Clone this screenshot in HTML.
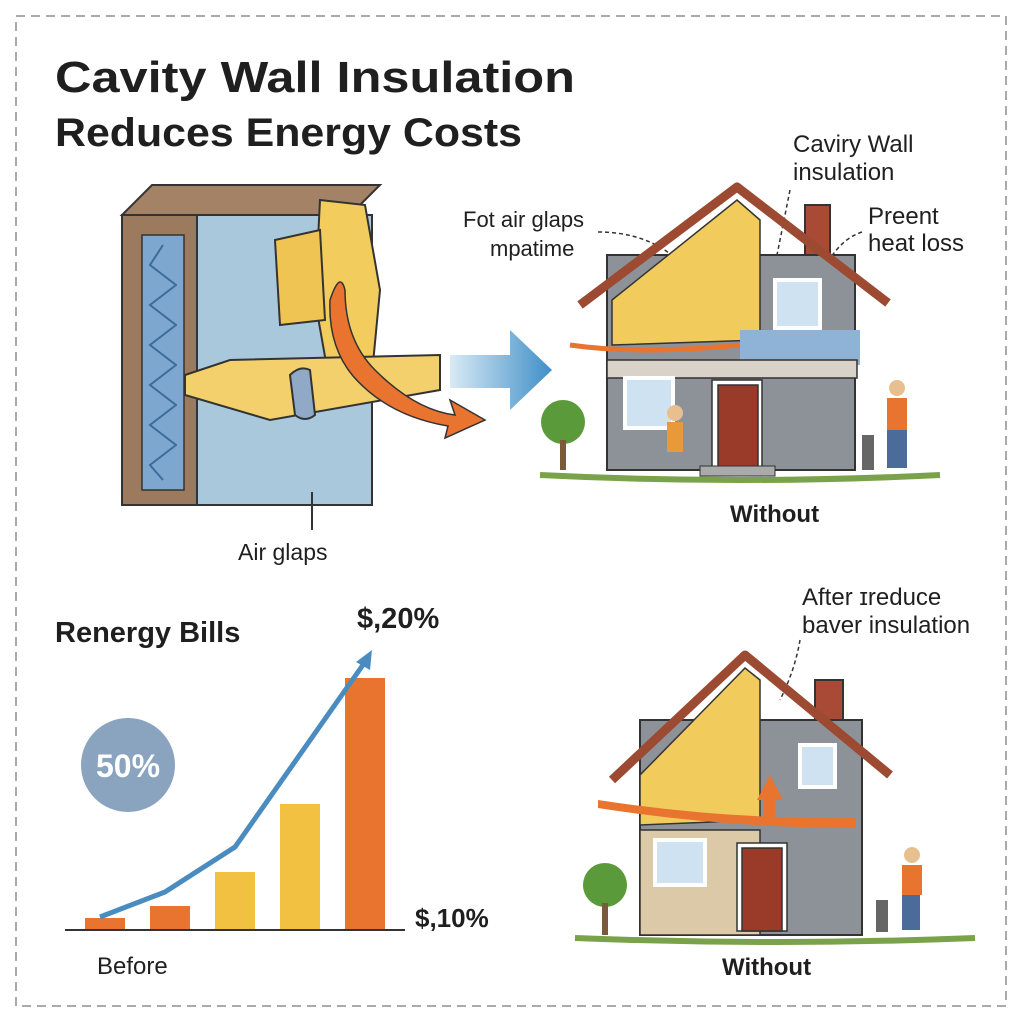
<!DOCTYPE html>
<html><head><meta charset="utf-8"><style>
html,body{margin:0;padding:0;background:#fff}
svg{display:block}
text{font-family:"Liberation Sans",sans-serif;fill:#1f1f1f}
</style></head><body>
<svg width="1024" height="1024" viewBox="0 0 1024 1024">
<rect x="16" y="16" width="990" height="990" fill="#fff" stroke="#aaa" stroke-width="2" stroke-dasharray="9,6"/>
<text x="55" y="92" font-size="44" font-weight="bold" textLength="520" lengthAdjust="spacingAndGlyphs">Cavity Wall Insulation</text>
<text x="55" y="146" font-size="40" font-weight="bold" textLength="467" lengthAdjust="spacingAndGlyphs">Reduces Energy Costs</text>

<!-- wall block -->
<polygon points="122,215 152,185 380,185 350,215" fill="#a48266" stroke="#333" stroke-width="2"/>
<rect x="122" y="215" width="75" height="290" fill="#9c7a5e" stroke="#333" stroke-width="2"/>
<rect x="142" y="235" width="42" height="255" fill="#7ea7cf" stroke="#333" stroke-width="1.5"/>
<polyline points="163,245 150,265 176,285 150,305 176,325 150,345 176,365 150,385 176,405 150,425 176,445 150,465 163,480" fill="none" stroke="#3c6c9c" stroke-width="2"/>
<rect x="197" y="215" width="175" height="290" fill="#a9c8dc" stroke="#333" stroke-width="2"/>
<polygon points="320,200 365,205 380,290 370,395 330,385 315,300" fill="#f2cd5e" stroke="#333" stroke-width="2"/>
<polygon points="275,240 320,230 325,320 280,325" fill="#f0c452" stroke="#333" stroke-width="2"/>
<polygon points="185,375 230,360 440,355 440,390 270,420 185,395" fill="#f3d06b" stroke="#333" stroke-width="2"/>
<path d="M290,375 q10,-10 20,-5 l5,45 q-10,8 -20,0z" fill="#8fa9c6" stroke="#333" stroke-width="2"/>
<path d="M330,300 q10,-30 15,-10 q0,50 30,80 q40,40 80,45 l-5,-15 l35,20 l-40,18 l3,-12 q-60,-10 -95,-50 q-25,-30 -23,-76z" fill="#e8742f" stroke="#333" stroke-width="1.5"/>
<text x="238" y="560" font-size="23">Air glaps</text>
<line x1="312" y1="530" x2="312" y2="492" stroke="#333" stroke-width="2"/>

<!-- big arrow -->
<defs><linearGradient id="g" x1="0" x2="1"><stop offset="0" stop-color="#d9eaf5"/><stop offset="1" stop-color="#3f8fc8"/></linearGradient></defs>
<polygon points="450,355 510,355 510,330 552,370 510,410 510,388 450,388" fill="url(#g)"/>

<!-- house 1 -->
<text x="463" y="227" font-size="22">Fot air glaps</text>
<text x="490" y="256" font-size="22">mpatime</text>
<path d="M598,232 q50,0 82,30" fill="none" stroke="#333" stroke-width="1.5" stroke-dasharray="4,3"/>
<text x="793" y="152" font-size="24">Caviry Wall</text>
<text x="793" y="180" font-size="24">insulation</text>
<line x1="790" y1="190" x2="775" y2="265" stroke="#333" stroke-width="1.5" stroke-dasharray="4,3"/>
<text x="868" y="224" font-size="24">Preent</text>
<text x="868" y="251" font-size="24">heat loss</text>
<path d="M862,232 q-30,10 -45,55" fill="none" stroke="#333" stroke-width="1.5" stroke-dasharray="4,3"/>
<rect x="805" y="205" width="25" height="50" fill="#a84a35" stroke="#333" stroke-width="2"/>
<rect x="607" y="255" width="248" height="215" fill="#8d9299" stroke="#333" stroke-width="2"/>
<polygon points="612,300 737,200 760,220 760,340 612,345" fill="#f1cc5c" stroke="#333" stroke-width="1.5"/>
<polygon points="740,330 860,330 860,365 740,360" fill="#8fb3d6"/>
<polyline points="580,305 737,187 888,303" fill="none" stroke="#9c4a32" stroke-width="9" stroke-linejoin="round"/>
<rect x="607" y="360" width="250" height="18" fill="#d9d2c8" stroke="#333" stroke-width="1.5"/>
<rect x="775" y="280" width="45" height="48" fill="#cfe2f1" stroke="#fff" stroke-width="4"/>
<rect x="625" y="378" width="48" height="50" fill="#cfe2f1" stroke="#fff" stroke-width="4"/>
<rect x="712" y="380" width="50" height="88" fill="#fff" stroke="#333" stroke-width="1.5"/>
<rect x="718" y="385" width="40" height="83" fill="#9a3a28" stroke="#333" stroke-width="1.5"/>
<path d="M570,345 q70,10 170,0" fill="none" stroke="#e8742f" stroke-width="5"/>
<rect x="700" y="466" width="75" height="10" fill="#aaa" stroke="#333"/>
<path d="M540,475 q200,10 400,0" stroke="#7aa24a" stroke-width="6" fill="none"/>
<circle cx="563" cy="422" r="22" fill="#5b9a3a"/><rect x="560" y="440" width="6" height="30" fill="#7a5a3a"/>
<circle cx="675" cy="413" r="8" fill="#e8c090"/><rect x="667" y="422" width="16" height="30" fill="#e89a3a"/>
<circle cx="897" cy="388" r="8" fill="#e8c090"/><rect x="887" y="398" width="20" height="32" fill="#e8742f"/><rect x="887" y="430" width="20" height="38" fill="#4b6c98"/>
<rect x="862" y="435" width="12" height="35" fill="#666"/>
<text x="730" y="522" font-size="24" font-weight="bold">Without</text>

<!-- chart -->
<text x="55" y="642" font-size="29" font-weight="bold">Renergy Bills</text>
<text x="357" y="628" font-size="29" font-weight="bold">$,20%</text>
<circle cx="128" cy="765" r="47" fill="#8aa4bf"/>
<text x="128" y="777" font-size="32" font-weight="bold" text-anchor="middle" style="fill:#fff">50%</text>
<rect x="85" y="918" width="40" height="12" fill="#e8742f"/>
<rect x="150" y="906" width="40" height="24" fill="#e8742f"/>
<rect x="215" y="872" width="40" height="58" fill="#f3c142"/>
<rect x="280" y="804" width="40" height="126" fill="#f3c142"/>
<rect x="345" y="678" width="40" height="252" fill="#e8742f"/>
<line x1="65" y1="930" x2="405" y2="930" stroke="#333" stroke-width="2"/>
<polyline points="100,917 165,892 235,847 365,662" fill="none" stroke="#4a8cbf" stroke-width="5"/>
<polygon points="372,650 356,662 370,670" fill="#4a8cbf"/>
<text x="415" y="927" font-size="26" font-weight="bold">$,10%</text>
<text x="97" y="974" font-size="24">Before</text>

<!-- house 2 -->
<text x="802" y="605" font-size="24">After ɪreduce</text>
<text x="802" y="633" font-size="24">baver insulation</text>
<path d="M800,640 q-5,30 -20,60" fill="none" stroke="#333" stroke-width="1.5" stroke-dasharray="4,3"/>
<rect x="815" y="680" width="28" height="50" fill="#a84a35" stroke="#333" stroke-width="2"/>
<rect x="640" y="720" width="222" height="215" fill="#8d9299" stroke="#333" stroke-width="2"/>
<polygon points="640,775 745,668 760,680 760,820 640,825" fill="#f1cc5c" stroke="#333" stroke-width="1.5"/>
<rect x="640" y="830" width="120" height="105" fill="#dcc9a8" stroke="#333" stroke-width="1.5"/>
<polyline points="612,780 745,655 890,775" fill="none" stroke="#9c4a32" stroke-width="9" stroke-linejoin="round"/>
<rect x="800" y="745" width="35" height="42" fill="#cfe2f1" stroke="#fff" stroke-width="4"/>
<rect x="655" y="840" width="50" height="45" fill="#cfe2f1" stroke="#fff" stroke-width="4"/>
<rect x="737" y="843" width="50" height="88" fill="#fff" stroke="#333" stroke-width="1.5"/>
<rect x="742" y="848" width="40" height="83" fill="#9a3a28" stroke="#333" stroke-width="1.5"/>
<path d="M598,800 q130,20 258,18 l0,10 q-130,0 -258,-20z" fill="#e8742f"/>
<polygon points="757,800 770,775 783,800 775,800 775,820 764,820 764,800" fill="#e8742f"/>
<path d="M575,938 q200,8 400,0" stroke="#7aa24a" stroke-width="6" fill="none"/>
<circle cx="605" cy="885" r="22" fill="#5b9a3a"/><rect x="602" y="903" width="6" height="32" fill="#7a5a3a"/>
<circle cx="912" cy="855" r="8" fill="#e8c090"/><rect x="902" y="865" width="20" height="30" fill="#e8742f"/><rect x="902" y="895" width="18" height="35" fill="#4b6c98"/>
<rect x="876" y="900" width="12" height="32" fill="#666"/>
<text x="722" y="975" font-size="24" font-weight="bold">Without</text>
</svg>
</body></html>
